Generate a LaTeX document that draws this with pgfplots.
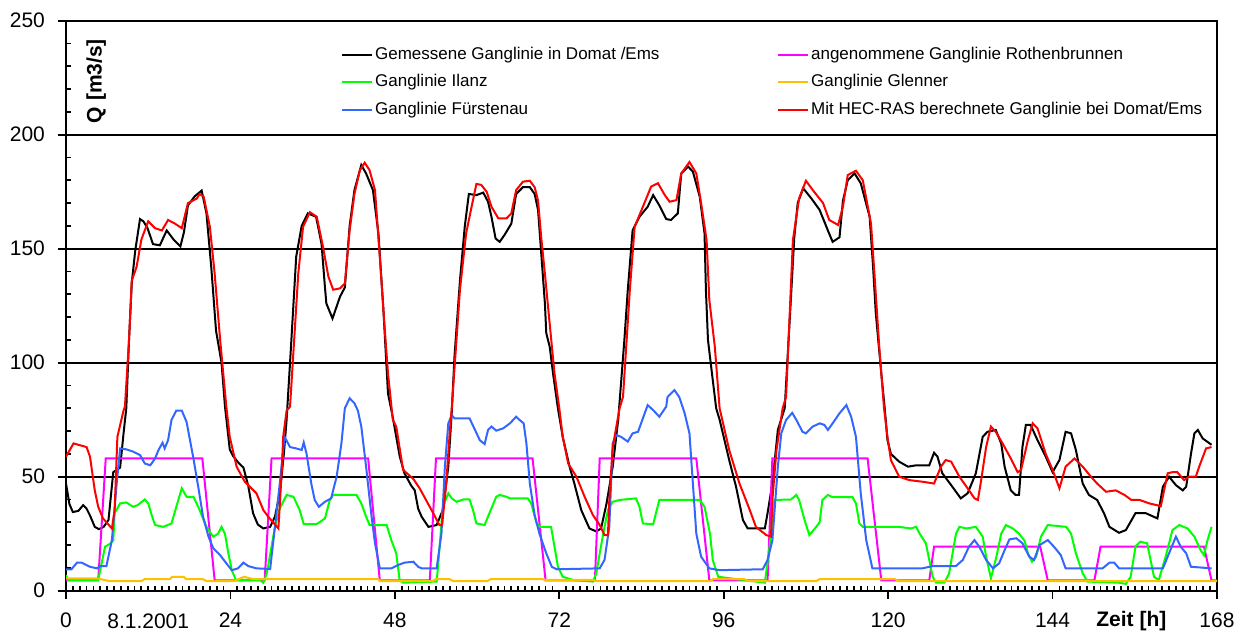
\documentclass[border=0pt]{standalone}
\usepackage{fontspec}
\setmainfont{Liberation Sans}
\usepackage{pgfplots}
\pgfplotsset{compat=1.18}
\definecolor{cgreen}{RGB}{0,255,0}
\definecolor{cblue}{RGB}{51,102,255}
\definecolor{corange}{RGB}{255,192,0}
\definecolor{cmag}{RGB}{255,0,255}
\begin{document}
\begin{tikzpicture}
\begin{axis}[name=ax, scale only axis, width=575.5pt, height=285pt,
 xmin=0, xmax=168, ymin=0, ymax=250,
 xtick={0,24,...,168}, ytick={0,50,...,250},
 minor x tick num=23, minor y tick num=4,
 xtick pos=left, ytick pos=left,
 tick align=outside, major tick length=4pt, minor tick length=2.5pt,
 every minor x tick/.append style={yshift=2.5pt},
 every minor y tick/.append style={xshift=2.5pt},
 tick style={black, line width=0.9pt},
 axis line style={line width=1pt},
 ymajorgrids, major grid style={black, line width=1pt},
 /pgf/number format/assume math mode=true,
 ticklabel style={font=\fontsize{10.5}{12}\selectfont},
 xticklabel style={yshift=-3.6pt},
 yticklabel style={xshift=-3pt},
 clip mode=individual,
 legend columns=2,
 legend cell align=left,
 legend style={draw=none, fill=none, inner sep=0pt, at={(axis cs:40.1,239.6)}, anchor=north west,
   font=\fontsize{8.5}{10}\selectfont,
   nodes={inner sep=1pt, text height=6.2pt, text depth=1.8pt},
   row sep=3.75pt,
   /tikz/every even column/.append style={column sep=57.8pt}},
 legend image code/.code={\draw[#1] (0pt,0pt) -- (15pt,0pt);},
 every axis plot/.append style={line width=1pt},
]
\addplot[black] coordinates {(0,47) (0.5,38) (1,34.5) (1.8,35) (2.5,37.5) (3,36) (3.5,33) (4.2,28) (4.8,27) (5.5,28) (6.2,31) (6.5,40) (6.9,52) (7.9,54) (8.4,69) (8.8,80) (9.2,110) (9.6,135) (10.1,149) (10.8,163) (11.3,162) (11.9,159) (12.7,152) (13.7,151.5) (14.7,158) (15.7,154) (16.7,151) (17.2,157) (17.8,169) (18.8,173) (19.8,175.5) (20.5,165.5) (21.2,142) (21.9,114) (22.7,100) (23.2,81) (23.9,62) (24.4,59) (25.2,56) (25.9,54) (26.6,46) (27.3,34) (28,29) (28.8,27.3) (29.8,28) (30.5,32.5) (31.2,42.7) (31.8,60) (32.2,75) (32.8,105) (33.6,146.5) (34.4,160) (35.3,165.5) (36.5,164) (37.3,152) (37.8,133) (38.0,126) (38.9,119.4) (40.0,129) (40.7,133) (41.4,160) (42.1,175.7) (43.1,186.7) (43.8,183) (44.8,175.7) (45.6,156.7) (46.3,124.6) (47.0,86.5) (47.7,76) (48.7,59) (49.4,51.5) (50.4,46) (50.9,44) (51.4,36) (51.9,32.5) (52.9,28) (54.1,28.8) (55.0,35.4) (55.8,54.4) (56.3,78) (56.7,102.6) (57.5,136) (58.2,159.6) (58.8,174) (59.9,173.5) (60.9,174.6) (61.6,170.6) (62.1,164) (62.7,154.5) (63.3,153) (64.0,156) (65.0,161) (65.7,174) (66.7,177) (67.7,177) (68.4,174) (68.9,167) (69.4,146.5) (69.9,126) (70.1,113) (70.6,107) (71.1,95) (71.8,80) (72.5,67.5) (73.5,54.4) (74.2,47) (75.2,35.4) (76.4,27.3) (77.4,26) (78.1,27.3) (78.9,38.3) (79.8,54.4) (80.6,75) (81.5,110) (82.0,132) (82.7,158) (83.7,164) (84.9,168.4) (85.7,173.5) (86.6,169) (87.6,163) (88.3,162.6) (89.3,165.5) (89.8,183) (90.8,186) (91.5,183.8) (92.5,172.8) (93.2,156.7) (93.4,132) (93.7,110) (94.4,92.4) (94.9,80) (95.4,75) (96.8,57.3) (97.8,45.6) (98.8,31) (99.5,27.3) (102,27.3) (102.4,34) (103.1,47) (103.9,70.5) (104.9,80) (105.6,117) (106.3,155) (106.8,170) (107.6,176.5) (108.8,172) (110,167) (111.2,158) (111.9,153) (112.9,155) (113.4,171) (114.1,180) (115.1,183) (116.0,178.7) (117.3,164) (117.8,142) (118.2,121.6) (119.0,95.3) (119.5,80) (119.9,66) (120.4,60) (121.6,56.6) (122.9,54.4) (124.1,55) (126.0,55) (126.7,60.5) (127.2,58.8) (127.9,51.5) (129.2,46.3) (130.6,40.5) (131.6,42.7) (132.8,51.5) (133.8,67.5) (134.5,69.7) (135.7,70.5) (136.5,64.6) (137.0,54.4) (137.9,44) (138.6,42) (139.1,42) (139.6,63) (140.1,72.7) (140.8,72.7) (141.8,66) (143.0,58.8) (144.0,52) (145.0,57.3) (145.9,69.7) (146.7,69) (147.4,61.7) (148.4,47) (149.3,42) (150.5,39.8) (151.5,34) (152.3,28) (153.7,25.4) (154.7,26.6) (156.1,34) (157.6,34) (159.3,31.7) (160.1,45.6) (161.0,50) (162.0,46.3) (163.0,44) (163.5,45.6) (164.2,60) (164.7,69) (165.2,70.5) (165.9,66.8) (167.2,64)};
\addlegendentry{Gemessene Ganglinie in Domat /Ems}
\addplot[cmag] coordinates {(0,4.5) (4.7,4.5) (5.8,58) (19.9,58) (21.7,4.5) (29.0,4.5) (30.0,58) (44.1,58) (45.8,4.5) (53.1,4.5) (54.0,58) (68.1,58) (70.0,4.5) (77.2,4.5) (77.9,58) (92.0,58) (93.9,4.5) (102.4,4.5) (103.1,58) (117.0,58) (119.0,4.5) (126.0,4.5) (126.7,19.3) (142.2,19.3) (143.3,4.5) (150.1,4.5) (151.0,19.3) (166.1,19.3) (167.2,4.5) (168,4.5)};
\addlegendentry{angenommene Ganglinie Rothenbrunnen}
\addplot[cgreen] coordinates {(0,6.9) (0.3,4.7) (4.7,4.7) (5.2,12) (5.7,19.3) (6.4,20.5) (6.9,22) (7.1,34) (7.9,38.3) (8.8,38.7) (9.8,36.8) (10.5,37.6) (11.5,40) (12.0,38.3) (12.5,33.2) (13.0,28.8) (14.2,28) (15.4,29.5) (16.1,36.8) (16.9,44.9) (17.6,41.2) (18.1,41) (18.6,41.2) (19.3,36.8) (20.5,28) (21.5,23.7) (22.2,25) (22.7,28) (23.2,25) (23.7,16.4) (24.2,9) (24.8,4.7) (28.3,4.7) (28.8,3.5) (29.3,7.6) (30.0,19.3) (30.5,28) (31.2,36) (32.2,42) (33.2,41.2) (34.1,35.4) (34.7,29.2) (36.6,29.2) (37.8,31.7) (38.5,39.8) (39.0,42) (42.4,42) (43.1,38.3) (43.8,32.5) (44.3,28.8) (46.8,28.8) (47.5,22) (48.2,16.4) (48.7,4.7) (49.2,3.5) (54.1,4) (54.3,10.5) (55.0,36.8) (55.8,42.7) (56.3,40.5) (57.0,39) (58.0,40) (58.9,40) (59.4,35.4) (59.9,29.5) (61.1,28.8) (61.8,34) (62.8,41.2) (63.3,42) (64.3,41.2) (64.8,40.5) (67.4,40.5) (67.9,38.3) (68.7,29.5) (69.2,28) (70.8,28) (71.3,19.3) (71.8,10.5) (72.5,6.1) (74,4.7) (76.9,4) (77.4,7.6) (77.9,16.4) (78.6,28) (79.1,35.4) (79.8,39) (80.8,39.8) (83.2,40.5) (83.7,36.8) (84.2,29.5) (85.7,29.1) (86.6,39.8) (92.5,39.8) (93.2,36.8) (94.0,25) (94.4,13.5) (95.2,6.1) (98.8,4.7) (102,3.5) (102.7,19.3) (103.4,39.8) (105.8,40) (106.6,42) (107.0,39.8) (107.8,31) (108.5,24.4) (109.5,28) (110.0,30) (110.4,39.8) (111.2,42) (111.9,41) (114.8,41) (115.3,38.3) (115.8,29.5) (116.3,28) (121.6,28) (123.3,27.3) (124.1,28) (124.6,25) (125.5,20.8) (126.0,13.5) (126.5,6.1) (127.0,3.5) (128.2,3.5) (128.9,7.6) (129.4,16.4) (129.9,25) (130.4,28) (131.4,27.3) (132.8,28) (133.8,23.7) (134.3,14.9) (135.0,5.4) (135.8,14.9) (136.5,25) (137.2,28.8) (138.2,27.3) (139.1,25) (139.9,22) (140.4,16.4) (141.0,12.7) (141.6,14.9) (142.3,23.7) (143.3,28.8) (146.0,28) (146.7,25) (147.4,16.4) (148.4,7.6) (149.1,4) (153.7,3.5) (154.7,3) (155.4,6.1) (156.1,19.3) (156.8,21.5) (157.8,20.8) (158.3,13.5) (158.8,6.1) (159.5,4.7) (160.5,14.9) (161.5,26.6) (162.5,28.8) (163.7,27.3) (164.7,23.7) (165.6,17.8) (166.1,15.6) (166.6,22) (167.2,28)};
\addlegendentry{Ganglinie Ilanz}
\addplot[corange] coordinates {(0,5.4) (4.5,5.4) (6.4,4.2) (11,4.2) (11.5,5.1) (15.2,5.1) (15.5,6.1) (17.2,6.1) (17.5,5.1) (20,5.1) (20.5,4.2) (24.5,4.2) (26,6.1) (27.3,5.1) (45.5,5.1) (46,4.2) (53.5,4.2) (54,5.1) (56,5.1) (56.5,4.2) (61.5,4.2) (62,5.1) (69.5,5.1) (70,4.7) (77,4.7) (77.5,4.2) (94,4.2) (94.5,5.1) (99,5.1) (99.5,4.2) (109.5,4.2) (110,5.1) (121,5.1) (121.5,4.2) (168,4.2)};
\addlegendentry{Ganglinie Glenner}
\addplot[cblue] coordinates {(0,9.4) (0.8,9.4) (1.6,12.3) (2.3,12.3) (3.5,10.5) (4.5,9.8) (5.0,10.8) (5.9,10.8) (6.7,22.2) (7.4,47) (7.9,62.4) (8.8,62) (9.8,61) (10.8,59.5) (11.5,55.8) (12.3,55) (13.0,58) (13.5,61.7) (14.1,64.9) (14.4,62.4) (14.9,66) (15.4,74.9) (16.1,79) (16.9,79) (17.6,74) (18.1,66) (18.6,58) (19.3,45.6) (20.0,32.5) (20.8,23.7) (21.5,18.6) (22.5,15.6) (23.4,12) (24.2,9) (25.1,9.8) (25.9,12.3) (26.6,10.8) (27.8,9.8) (29.8,9.5) (30.0,14.9) (30.5,28) (31.2,47) (31.9,67.5) (32.7,63) (33.6,62.4) (34.4,61.7) (34.7,65) (35.1,60.2) (35.8,47) (36.3,39.8) (36.9,36.8) (37.8,39) (38.7,40.5) (39.5,50) (40.2,64.6) (40.7,80) (41.4,84.4) (42.1,82.2) (42.6,79) (43.1,72) (43.8,54.4) (44.6,32.5) (45.1,20.8) (45.8,9.8) (47.5,9.8) (48.5,11.3) (49.4,12.3) (50.7,12.7) (51.4,10.5) (51.9,9.8) (54.1,9.8) (54.8,25) (55.3,54.4) (55.8,73.4) (56.3,77) (56.7,75.6) (58.9,75.6) (59.7,70.5) (60.4,66) (61.1,64.3) (61.6,70.5) (62.1,72) (62.8,70.2) (63.8,71.2) (64.8,73.4) (65.7,76.3) (66.2,74.9) (66.8,73.4) (67.2,64.6) (67.7,47) (68.4,33.2) (69.1,25) (70.1,16.4) (70.9,10.5) (71.6,9.4) (77.9,9.8) (78.6,13.5) (79.3,28) (79.8,64.6) (80.3,68.3) (81.0,67.5) (82.0,65.4) (82.7,69) (83.5,69.7) (84.2,75.6) (84.9,81.4) (85.7,79.2) (86.6,76.3) (87.6,80.7) (87.8,85) (88.8,88) (89.5,85) (90.3,77.8) (91.0,69) (91.5,47) (92.0,25) (92.7,14.9) (93.9,9.8) (95.4,9) (101.7,9.4) (102.4,13.5) (103.1,22) (103.9,54.4) (104.4,69) (105.1,74.9) (106.0,78) (106.6,74.9) (107.5,69.7) (108.0,69) (109.0,72) (110.0,73.4) (110.7,72.7) (111.2,70.5) (111.9,73.4) (112.9,77.8) (113.9,81.4) (114.6,76.3) (115.3,67.5) (116.0,42.7) (116.8,22.2) (117.7,9.8) (125.0,9.8) (126.5,10.8) (129.9,10.8) (130.9,13.5) (131.8,19.3) (132.6,22.2) (133.3,19.3) (134.3,13.5) (135.3,9.8) (136.2,12) (137.0,17.8) (137.7,22.5) (138.7,23) (139.6,20.8) (140.6,14.9) (141.3,13.5) (142.1,20) (143.3,22.2) (144.2,19.3) (145.2,15.6) (145.9,9.8) (151.3,9.8) (152.3,12.3) (153.0,12.3) (153.7,9.8) (160.1,9.8) (161.0,16.4) (162.0,23.7) (162.7,19.3) (163.5,16.4) (164.2,10.5) (167.2,9.8)};
\addlegendentry{Ganglinie Fürstenau}
\addplot[red] coordinates {(0,58.8) (1.1,64.6) (1.8,64) (3.0,63) (3.5,58.8) (4.2,44) (4.7,36.8) (5.4,31.7) (6.7,27.3) (7.1,35.4) (7.5,67.5) (8.4,79) (8.6,80.7) (9.2,110) (9.6,136) (10.3,142) (11.0,154) (12.0,162) (13.0,159) (14.0,158) (14.9,162.6) (15.9,161) (16.9,159) (17.8,170) (19.1,172) (19.5,174) (20.1,172.8) (21.0,159.6) (21.7,139) (22.5,110) (23.4,80.7) (23.9,67.5) (24.9,54.4) (26.1,47.8) (27.8,42.7) (28.8,35.4) (29.5,32.5) (31.0,27.3) (31.5,53) (31.7,67.5) (32.2,79) (32.7,80.7) (33.9,139) (34.6,159.6) (35.6,166) (36.6,164) (37.5,151) (38.3,137.7) (39.0,132) (40.0,132.6) (40.7,134.8) (41.4,158) (42.1,174) (42.9,184.5) (43.6,187.7) (44.3,184.5) (45.1,175.7) (45.8,146.5) (46.5,115.8) (47.0,95.3) (47.7,75) (48.2,72) (49.2,53) (50.7,49) (51.6,45) (53.6,34) (54.5,28.8) (54.9,28.8) (55.5,47) (56.0,69) (56.3,80) (57.5,132) (58.4,156.7) (59.2,168.4) (59.9,178.4) (60.6,178) (61.4,175) (62.1,168.4) (63.1,163.3) (64.3,163.3) (65.0,165.5) (65.7,175.7) (66.7,179.4) (67.7,179.8) (68.4,177) (68.9,171) (69.4,153.8) (69.9,139) (70.6,117) (71.3,95.3) (72.0,80) (72.5,67.5) (73.3,55.8) (74.5,50) (75.7,41.2) (76.9,33.2) (77.9,28.8) (78.6,24.4) (79.1,24.4) (79.3,39.8) (79.8,63) (80.8,80) (81.3,85) (82.3,132) (83.0,159.6) (84.2,168.4) (85.4,177.2) (86.4,178.7) (87.4,173.5) (88.1,170.6) (89.1,171.3) (89.8,183) (91.0,188) (92.0,183) (92.7,170) (93.5,153.8) (93.9,127.5) (94.7,107) (95.4,80) (96.8,61.7) (98.3,47) (99.8,35.4) (100.7,28) (102.2,24.4) (102.9,23.7) (103.1,39.8) (103.7,61.7) (104.6,80) (105.1,85) (106.1,153.8) (107.0,172) (108.0,179.8) (109.0,175.7) (110.5,170) (111.4,162.6) (112.7,160.4) (113.4,168.4) (114.1,182.3) (115.3,184.2) (116.3,180) (117.5,161) (118.0,139) (118.7,107) (119.4,80) (119.9,67.5) (120.4,57.3) (121.6,50) (123.1,48.5) (125.0,47.8) (126.7,47) (127.7,54.4) (128.4,57.3) (129.2,56.6) (130.4,50) (131.6,44.9) (132.6,40.5) (133.1,39.8) (133.5,47) (134.3,63) (135.0,72) (135.7,69.7) (136.7,64.6) (137.9,58) (138.9,52) (139.4,53) (140.4,66) (141.1,73.4) (141.8,71.2) (143.0,60) (144.0,53) (145.0,44.9) (145.9,54.4) (147.2,58) (148.4,54.4) (149.6,50) (150.5,47) (151.8,43.4) (153.2,44) (154.5,42) (155.5,39.8) (156.7,39.8) (158.1,38.3) (159.8,37.1) (160.8,51.5) (161.5,52) (162.2,52) (163.2,48.5) (163.9,50) (164.9,50) (165.4,54.4) (166.4,62.4) (167.2,63)};
\addlegendentry{Mit HEC-RAS berechnete Ganglinie bei Domat/Ems}
\node[rotate=90, font=\bfseries\fontsize{10.5}{12}\selectfont] at (axis cs:4.4,223.5) {Q [m3/s]};
\node[anchor=base, yshift=-19pt, font=\fontsize{10.5}{12}\selectfont] at (axis cs:12,0) {8.1.2001};
\node[anchor=base, yshift=-18pt, font=\bfseries\fontsize{10.5}{12}\selectfont] at (axis cs:155.5,0) {Zeit [h]};
\end{axis}
\pgfresetboundingbox
\path ([shift={(-33pt,-20.15pt)}]ax.south west) rectangle ([shift={(12pt,10.35pt)}]ax.north east);
\end{tikzpicture}
\end{document}
